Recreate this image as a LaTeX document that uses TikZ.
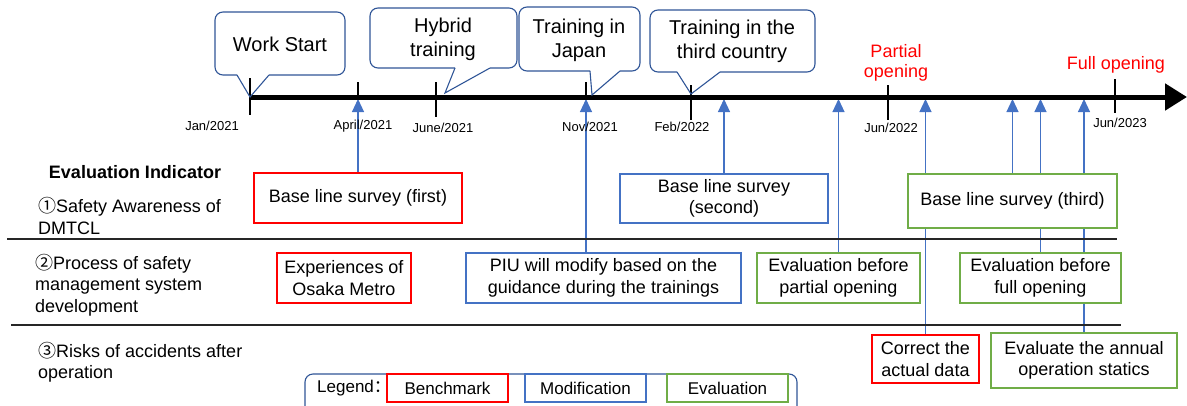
\documentclass[tikz,border=0pt]{standalone}
\usepackage{fontspec}
\setmainfont{Liberation Sans}
\newfontfamily\cjk{Noto Sans CJK SC}
\usetikzlibrary{arrows.meta,backgrounds}
\definecolor{cred}{HTML}{FF0000}
\definecolor{cblue}{HTML}{4472C4}
\definecolor{cgreen}{HTML}{70AD47}
\definecolor{cdark}{HTML}{2F5597}
\begin{document}
\begin{tikzpicture}[x=1pt,y=-1pt,
 box/.style={draw, line width=1.5pt, fill=white, align=center, inner sep=0pt, font=\fontsize{18}{21.5}\selectfont},
 bench/.style={box, draw=cred},
 modif/.style={box, draw=cblue},
 evalb/.style={box, draw=cgreen},
 callout/.style={draw=cdark, line width=1.1pt},
 ctext/.style={align=center, inner sep=0pt, font=\fontsize{20}{24}\selectfont},
 datel/.style={inner sep=0pt, font=\fontsize{13}{15}\selectfont},
 tickl/.style={black, line width=1.3pt},
 up/.style={cblue, line width=1.1pt, -{Triangle[width=12pt,length=13pt]}},
 sepl/.style={line width=1.1pt, black!85},
 lbl/.style={align=left, anchor=west, inner sep=0pt, font=\fontsize{18}{21.5}\selectfont},
 redt/.style={align=center, inner sep=0pt, text=cred, font=\fontsize{18}{20}\selectfont},
 ]
\useasboundingbox (0,0) rectangle (1187,405);

% timeline
\coordinate (tstart) at (250,97);
\coordinate (tend) at (1187,97);
\draw[line width=5pt, -{Triangle[width=26pt,length=22pt]}] (tstart) -- (tend);
\coordinate (tl) at (0,99);

% ticks
\draw[tickl] (250,78) -- (250,115);
\draw[tickl] (358,82) -- (358,97);
\draw[tickl] (436,82) -- (436,117);
\draw[tickl] (586,82) -- (586,97);
\draw[tickl] (691,85) -- (691,120);
\draw[tickl] (888,85) -- (888,120);
\draw[tickl] (1115,79) -- (1115,113);

% dates
\node[datel] (dJan) at (212,126) {Jan/2021};
\node[datel] (dApr) at (363,126) {April/2021};
\node[datel] (dJun1) at (443,128) {June/2021};
\node[datel] (dNov) at (590,127) {Nov/2021};
\node[datel] (dFeb) at (682,127) {Feb/2022};
\node[datel] (dJun2) at (891,128) {Jun/2022};
\node[datel] (dJun3) at (1120,123) {Jun/2023};

% callouts
\draw[callout] (237,75) -- (250,97) -- (269,75);
\draw[callout, rounded corners=8pt] (269,75) -- (345,75) -- (345,12) -- (215,12) -- (215,75) -- (237,75);
\node[ctext] (cWork) at (280,44) {Work Start};

\draw[callout] (455,68) -- (445,93) -- (490,68);
\draw[callout, rounded corners=8pt] (490,68) -- (517,68) -- (517,8) -- (370,8) -- (370,68) -- (455,68);
\node[ctext] (cHyb) at (443,39) {Hybrid\\training};

\draw[callout] (590,71) -- (592,95) -- (620,71);
\draw[callout, rounded corners=8pt] (620,71) -- (640,71) -- (640,7) -- (519,7) -- (519,71) -- (590,71);
\node[ctext] (cJap) at (579,40) {Training in\\Japan};

\draw[callout] (677,72) -- (691,94) -- (720,72);
\draw[callout, rounded corners=8pt] (720,72) -- (815,72) -- (815,10) -- (650,10) -- (650,72) -- (677,72);
\node[ctext] (cThird) at (732,41.5) {Training in the\\third country};

% red labels
\node[redt] (rPart) at (896,63) {Partial\\opening};
\node[redt] (rFull) at (1116,65) {Full opening};

% left labels
\node[inner sep=0pt, font=\bfseries\fontsize{18}{21.5}\selectfont] (hdr) at (135,172) {Evaluation Indicator};
\node[lbl] (ind1) at (38,216) {{\cjk ①}Safety Awareness of\\DMTCL};
\node[lbl] (ind2) at (35,285) {{\cjk ②}Process of safety\\management system\\development};
\node[lbl] (ind3) at (38,362) {{\cjk ③}Risks of accidents after\\operation};

% separators
\draw[sepl] (7,239) -- (1117,239);
\draw[sepl] (11,325) -- (1121,325);

% boxes
\node[bench, minimum width=208pt, minimum height=50pt] (bls1) at (358,198) {Base line survey (first)};
\node[modif, minimum width=208pt, minimum height=49pt] (bls2) at (724,198.5) {Base line survey\\(second)};
\node[evalb, minimum width=209pt, minimum height=54pt] (bls3) at (1012.5,201) {Base line survey (third)};
\node[bench, minimum width=134pt, minimum height=50pt] (exp) at (344,278) {Experiences of\\Osaka Metro};
\node[modif, minimum width=275pt, minimum height=50pt] (piu) at (603.5,278) {PIU will modify based on the\\guidance during the trainings};
\node[evalb, minimum width=163pt, minimum height=50pt] (ebp) at (838.5,278) {Evaluation before\\partial opening};
\node[evalb, minimum width=161pt, minimum height=50pt] (ebf) at (1040.5,278) {Evaluation before\\full opening};
\node[bench, minimum width=107pt, minimum height=48pt] (cad) at (925.5,359) {Correct the\\actual data};
\node[evalb, minimum width=186pt, minimum height=55pt] (eaos) at (1084,360.5) {Evaluate the annual\\operation statics};

% arrows
\coordinate (nov) at (586,99);
\begin{scope}[on background layer]
\draw[up] (bls1.north) -- (bls1.north |- tl);
\draw[up] (piu.north -| nov) -- (nov);
\draw[up] (bls2.north) -- (bls2.north |- tl);
\draw[up] (ebp.north) -- (ebp.north |- tl);
\draw[up] (cad.north) -- (cad.north |- tl);
\draw[up] (bls3.north) -- (bls3.north |- tl);
\draw[up] (ebf.north) -- (ebf.north |- tl);
\draw[up] (eaos.north) -- (eaos.north |- tl);
\end{scope}

% legend
\draw[draw=cdark, line width=1.1pt, rounded corners=8pt] (305,420) -- (305,374) -- (797,374) -- (797,420);
\node[anchor=west, inner sep=0pt, font=\fontsize{17}{20}\selectfont] (leg) at (317,388) {Legend{\cjk ：}};
\node[bench, font=\fontsize{17}{20}\selectfont, minimum width=121pt, minimum height=28pt] (lb) at (447.5,388) {Benchmark};
\node[modif, font=\fontsize{17}{20}\selectfont, minimum width=121pt, minimum height=28pt] (lm) at (585.5,388) {Modification};
\node[evalb, font=\fontsize{17}{20}\selectfont, minimum width=121pt, minimum height=28pt] (le) at (727.5,388) {Evaluation};
\end{tikzpicture}
\end{document}
